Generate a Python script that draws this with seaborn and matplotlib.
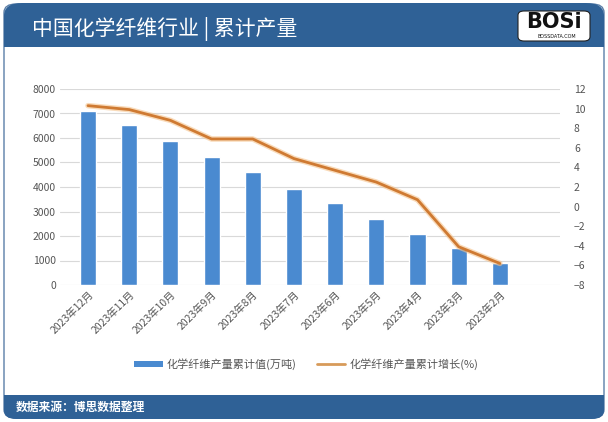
import matplotlib
matplotlib.use("Agg")
import matplotlib.pyplot as plt
from matplotlib.patches import FancyBboxPatch, Rectangle
from matplotlib.lines import Line2D
from matplotlib.patches import Patch
import seaborn as sns
import pandas as pd

months = ["2023年12月", "2023年11月", "2023年10月", "2023年9月", "2023年8月", "2023年7月",
          "2023年6月", "2023年5月", "2023年4月", "2023年3月", "2023年2月"]
output_values = [7110, 6530, 5880, 5210, 4600, 3930, 3330, 2690, 2070, 1520, 910]
growth_values = [10.3, 9.9, 8.8, 6.9, 6.9, 4.9, 3.7, 2.5, 0.7, -4.1, -5.8]
left_ticks = [0, 1000, 2000, 3000, 4000, 5000, 6000, 7000, 8000]
right_ticks = [-8, -6, -4, -2, 0, 2, 4, 6, 8, 10, 12]

title = "中国化学纤维行业 | 累计产量"
bar_label = "化学纤维产量累计值(万吨)"
line_label = "化学纤维产量累计增长(%)"
source = "数据来源：博思数据整理"

sns.set_theme(style="white")
plt.rcParams["font.family"] = ["Noto Sans CJK SC", "DejaVu Sans"]

df = pd.DataFrame({"month": months, "output": output_values, "growth": growth_values})

fig = plt.figure(figsize=(6.08, 4.22), dpi=100)
W, H = 608, 422

def fx(x):
    return x / W

def fy(y):
    return 1 - y / H

header_col = "#2f6196"
# panel border
fig.patches.append(FancyBboxPatch((fx(4), fy(418)), fx(600), 414 / H,
                                  boxstyle="round,pad=0,rounding_size=0.02", transform=fig.transFigure,
                                  facecolor="white", edgecolor="#5b7fa8", linewidth=1.0, zorder=0))
# header band
fig.patches.append(FancyBboxPatch((fx(4), fy(47)), fx(600), 44 / H,
                                  boxstyle="round,pad=0,rounding_size=0.03", transform=fig.transFigure,
                                  facecolor=header_col, edgecolor="none", zorder=1))
fig.patches.append(Rectangle((fx(4), fy(47)), fx(600), 15 / H, transform=fig.transFigure,
                             facecolor=header_col, edgecolor="none", zorder=1))
# footer band
fig.patches.append(FancyBboxPatch((fx(4), fy(419)), fx(600), 24 / H,
                                  boxstyle="round,pad=0,rounding_size=0.02", transform=fig.transFigure,
                                  facecolor=header_col, edgecolor="none", zorder=1))
fig.patches.append(Rectangle((fx(4), fy(407)), fx(600), 12 / H, transform=fig.transFigure,
                             facecolor=header_col, edgecolor="none", zorder=1))

fig.text(fx(32), fy(29), title, color="white", fontsize=15, va="center", ha="left", zorder=3)
fig.text(fx(16), fy(407), source, color="white", fontsize=8.5, va="center", ha="left",
         fontweight="bold", zorder=3)

# logo
fig.patches.append(FancyBboxPatch((fx(518), fy(41)), fx(72), 30 / H,
                                  boxstyle="round,pad=0,rounding_size=0.01", transform=fig.transFigure,
                                  facecolor="white", edgecolor="#222222", linewidth=0.8, zorder=2))
fig.text(fx(554), fy(22), "BOSi", color="#111111", fontsize=15, fontweight="bold",
         va="center", ha="center", family=["DejaVu Sans"], zorder=3)
fig.text(fx(557), fy(36), "BOSSDATA.COM", color="#111111", fontsize=3.5,
         va="center", ha="center", family=["DejaVu Sans"], zorder=3)

ax = fig.add_axes([fx(60), fy(285), fx(500), (285 - 89) / H])
ax.set_facecolor("none")
ax.set_zorder(2)
sns.barplot(data=df, x="month", y="output", color="#4a8ad0", saturation=1, width=0.39, ax=ax, zorder=2)
ax.set_ylim(0, 8000)
ax.set_yticks(left_ticks)
ax.set_xlim(-0.68, 11.46)
ax.grid(axis="y", color="#d9d9d9", linewidth=0.8, zorder=0)
ax.set_axisbelow(True)
for s in ax.spines.values():
    s.set_visible(False)
ax.set_xlabel("")
ax.set_ylabel("")
ax.tick_params(axis="y", labelsize=7.5, labelcolor="#555555", length=0, pad=3)
ax.tick_params(axis="x", labelsize=7.5, labelcolor="#555555", length=0, pad=3)
plt.setp(ax.get_xticklabels(), rotation=45, ha="right", rotation_mode="anchor")

ax2 = ax.twinx()
sns.lineplot(x=list(range(len(months))), y=growth_values, ax=ax2, color="#f5c38c",
             linewidth=4.0, alpha=0.6, zorder=3)
sns.lineplot(x=list(range(len(months))), y=growth_values, ax=ax2, color="#cf7a32",
             linewidth=2.0, zorder=4)
ax2.set_ylim(-8, 12)
ax2.set_yticks(right_ticks)
ax2.set_xlim(-0.68, 11.46)
for s in ax2.spines.values():
    s.set_visible(False)
ax2.set_ylabel("")
ax2.tick_params(axis="y", labelsize=7.5, labelcolor="#555555", length=0, pad=10)

handles = [Patch(facecolor="#4a8ad0", edgecolor="none"),
           Line2D([0], [0], color="#d79a5a", linewidth=2.0)]
fig.legend(handles, [bar_label, line_label], loc="center", bbox_to_anchor=(fx(306), fy(364)),
           ncol=2, frameon=False, fontsize=8, labelcolor="#555555", handlelength=2.6,
           handleheight=0.5, columnspacing=1.8, handletextpad=0.35)

fig.savefig("out.png", dpi=100)
